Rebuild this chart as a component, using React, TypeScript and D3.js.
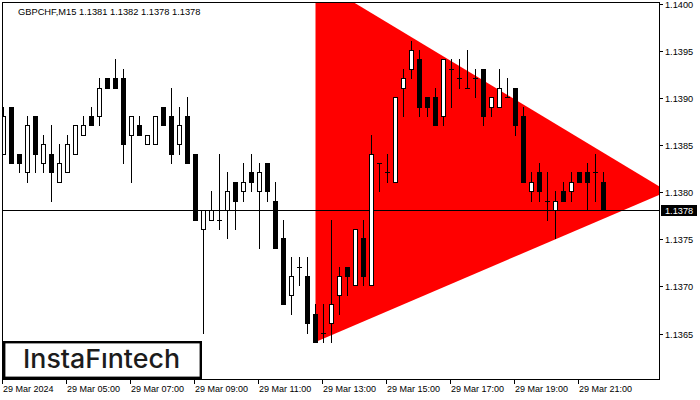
import React from "react";
import * as d3 from "d3";

const title = "GBPCHF,M15  1.1381 1.1382 1.1378 1.1378";

const opens = [1.1384,1.1389,1.1384,1.1382,1.1388,1.1383,1.1384,1.1381,1.1382,1.1384,
  1.1386,1.1388,1.1388,1.1392,1.1392,1.1392,1.1386,1.1387,1.1385,1.1385,
  1.1389,1.1388,1.1385,1.1388,1.1384,1.1376,1.1377,1.1377,1.1378,1.1381,
  1.1380,1.1382,1.1380,1.1383,1.1379,1.1375,1.1369,1.1372,1.1371,1.1367,
  1.1365,1.1366,1.1369,1.1372,1.1370,1.1375,1.1370,1.1383,1.1382,1.1381,
  1.1391,1.1393,1.1394,1.1390,1.1390,1.1388,1.1393,1.1392,1.1391,1.1392,
  1.1393,1.1389,1.1389,1.1390,1.1391,1.1388,1.1380,1.1382,1.1379,1.1378,
  1.1380,1.1380,1.1382,1.1382,1.1382,1.1381];

const highs = [1.1389,1.1389,1.1384,1.1388,1.1388,1.1386,1.1387,1.1385,1.1386,1.1387,
  1.1388,1.1389,1.1392,1.1392,1.1394,1.1393,1.1388,1.1388,1.1386,1.1388,
  1.1389,1.1391,1.1389,1.1390,1.1384,1.1378,1.1380,1.1384,1.1382,1.1381,
  1.1383,1.1384,1.1383,1.1383,1.1381,1.1377,1.1373,1.1373,1.1373,1.1368,
  1.1368,1.1377,1.1372,1.1372,1.1376,1.1377,1.1386,1.1383,1.1384,1.1390,
  1.1393,1.1396,1.1395,1.1390,1.1391,1.1394,1.1394,1.1394,1.1395,1.1393,
  1.1393,1.1390,1.1393,1.1392,1.1391,1.1389,1.1382,1.1383,1.1382,1.1380,
  1.1381,1.1382,1.1382,1.1383,1.1384,1.1382];

const lows = [1.1384,1.1383,1.1382,1.1381,1.1382,1.1382,1.1379,1.1381,1.1382,1.1384,
  1.1386,1.1387,1.1387,1.1391,1.1391,1.1383,1.1381,1.1386,1.1385,1.1385,
  1.1387,1.1383,1.1384,1.1383,1.1377,1.1365,1.1377,1.1376,1.1375,1.1376,
  1.1379,1.1380,1.1374,1.1379,1.1374,1.1368,1.1367,1.1370,1.1365,1.1364,
  1.1364,1.1364,1.1367,1.1369,1.1370,1.1370,1.1370,1.1380,1.1381,1.1381,
  1.1388,1.1392,1.1388,1.1388,1.1387,1.1387,1.1389,1.1391,1.1391,1.1390,
  1.1387,1.1388,1.1389,1.1390,1.1386,1.1381,1.1379,1.1379,1.1377,1.1375,
  1.1379,1.1379,1.1381,1.1378,1.1379,1.1378];

const closes = [1.1388,1.1383,1.1383,1.1387,1.1384,1.1385,1.1382,1.1383,1.1385,1.1387,
  1.1387,1.1387,1.1391,1.1391,1.1391,1.1385,1.1388,1.1386,1.1386,1.1388,
  1.1387,1.1384,1.1387,1.1383,1.1377,1.1378,1.1378,1.1377,1.1380,1.1379,
  1.1381,1.1381,1.1382,1.1380,1.1374,1.1368,1.1371,1.1372,1.1366,1.1364,
  1.1365,1.1368,1.1371,1.1371,1.1376,1.1371,1.1384,1.1383,1.1382,1.1390,
  1.1392,1.1395,1.1389,1.1389,1.1387,1.1394,1.1393,1.1392,1.1391,1.1392,
  1.1388,1.1390,1.1391,1.1390,1.1387,1.1381,1.1381,1.1380,1.1379,1.1379,
  1.1379,1.1381,1.1381,1.1381,1.1382,1.1378];

const timeTickIndex = [0, 8, 16, 24, 32, 40, 48, 56, 64, 72];
const timeTickLabels = ["29 Mar 2024", "29 Mar 05:00", "29 Mar 07:00", "29 Mar 09:00", "29 Mar 11:00",
  "29 Mar 13:00", "29 Mar 15:00", "29 Mar 17:00", "29 Mar 19:00", "29 Mar 21:00"];

const priceTicks = [1.1365, 1.1370, 1.1375, 1.1380, 1.1385, 1.1390, 1.1395, 1.1400];
const currentPrice = 1.1378;

// triangle pattern: [candle index, price]
const triangleIdx = [39, 39, 83];
const trianglePrice = [1.14025, 1.1364, 1.1380];

const L = 2, R = 659, T = 2, B = 379;
const FONT = "'Liberation Sans', Arial, sans-serif";

export default function App() {
  const x = d3.scaleLinear().domain([0, 82]).range([3.5, 659.5]);
  const y = d3.scaleLinear().domain([1.1360, 1.1400]).range([379.7, 2.9]);
  const n = opens.length;
  const candles = d3.range(n).map((i) => ({ i, o: opens[i], h: highs[i], l: lows[i], c: closes[i] }));

  const tri = d3.line<number>()
    .x((k) => x(triangleIdx[k]))
    .y((k) => y(trianglePrice[k]))
    .curve(d3.curveLinearClosed)([0, 1, 2]) as string;

  const priceY = Math.round(y(currentPrice)) + 0.5;

  return (
    <svg width={700} height={400} style={{ position: "absolute", left: 0, top: 0, background: "#fff" }}>
      <defs>
        <clipPath id="plot">
          <rect x={L} y={T} width={R - L} height={B - T} />
        </clipPath>
      </defs>
      <rect x={0} y={0} width={700} height={400} fill="#fff" />
      <g clipPath="url(#plot)">
        <path d={tri} fill="#ff0000" />
        <line x1={L} x2={R} y1={priceY} y2={priceY} stroke="#000" strokeWidth={1} shapeRendering="crispEdges" />
        {candles.map((d) => {
          const px = Math.floor(x(d.i));
          const yt = Math.round(y(Math.max(d.o, d.c))) + 0.5;
          const yb = Math.round(y(Math.min(d.o, d.c))) + 0.5;
          const yh = Math.round(y(d.h));
          const yl = Math.round(y(d.l)) + 1;
          const bull = d.c >= d.o;
          return (
            <g key={d.i} shapeRendering="crispEdges">
              <line x1={px + 0.5} x2={px + 0.5} y1={yh} y2={yl} stroke="#000" strokeWidth={1} />
              {yb - yt < 1 ? (
                <line x1={px - 2} x2={px + 3} y1={yt} y2={yt} stroke="#000" strokeWidth={1} />
              ) : (
                <rect x={px - 1.5} y={yt} width={4} height={yb - yt} fill={bull ? "#fff" : "#000"} stroke="#000" strokeWidth={1} />
              )}
            </g>
          );
        })}
      </g>
      <rect x={L + 0.5} y={T + 0.5} width={R - L} height={B - T} fill="none" stroke="#000" strokeWidth={1} shapeRendering="crispEdges" />

      <text x={18} y={14.5} fontFamily={FONT} fontSize={9.3} fill="#000">{title}</text>

      {priceTicks.map((p) => {
        const ty = Math.round(y(p)) + 1.5;
        return (
          <g key={p}>
            <line x1={R} x2={R + 4} y1={ty} y2={ty} stroke="#000" shapeRendering="crispEdges" />
            <text x={665} y={ty + 3.3} fontFamily={FONT} fontSize={9.2} fill="#000">{p.toFixed(4)}</text>
          </g>
        );
      })}
      <rect x={661} y={205} width={36} height={11} fill="#000" />
      <text x={665} y={214} fontFamily={FONT} fontSize={9.2} fill="#fff">{currentPrice.toFixed(4)}</text>

      {timeTickIndex.map((idx, k) => {
        const tx = Math.floor(x(idx)) - 1 + 0.5;
        return (
          <g key={idx}>
            <line x1={tx} x2={tx} y1={B} y2={B + 5} stroke="#000" shapeRendering="crispEdges" />
            <text x={tx + 0.5} y={392} fontFamily={FONT} fontSize={9} fill="#000">{timeTickLabels[k]}</text>
          </g>
        );
      })}

      <rect x={4.2} y={342.2} width={196.6} height={35.6} fill="#fff" stroke="#000" strokeWidth={2.4} />
      <text x={23} y={368} fontFamily="Inter, 'Open Sans', sans-serif" fontWeight={500} fontSize={26} fill="#1c1c1c"
        textLength={157} lengthAdjust="spacingAndGlyphs">InstaFıntech</text>
    </svg>
  );
}
